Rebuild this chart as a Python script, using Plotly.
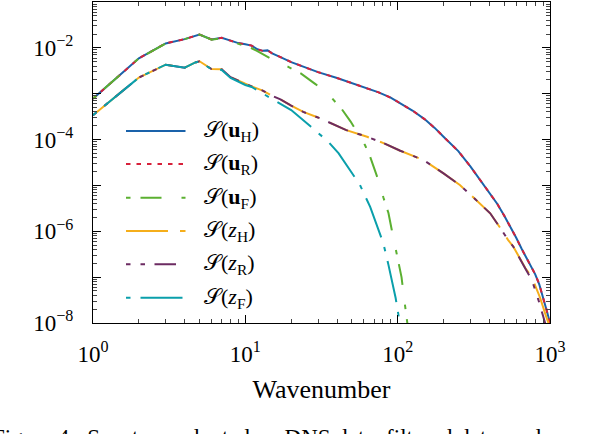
import plotly.graph_objects as go

# ---------------- data ----------------
k_u = [1, 2, 3, 4, 5, 6, 7, 8, 9, 10, 11, 12, 13, 14, 15, 17, 20, 25, 30, 40, 50,
       60, 75, 90, 105, 125, 150, 175, 200, 250, 300, 350, 400, 450, 500, 550, 600,
       650, 700, 750, 800, 850, 900, 950, 1000]
S_uH = [7.8e-4, 5.9e-3, 1.25e-2, 1.55e-2, 1.96e-2, 1.52e-2, 1.65e-2, 1.45e-2, 1.27e-2,
        1.2e-2, 1.12e-2, 9.3e-3, 8.6e-3, 8.8e-3, 7.6e-3, 6.3e-3, 4.9e-3, 3.7e-3, 2.95e-3,
        2.2e-3, 1.7e-3, 1.4e-3, 1.07e-3, 8.2e-4, 6.1e-4, 4.3e-4, 2.8e-4, 1.8e-4, 1.15e-4,
        5.6e-5, 2.6e-5, 1.25e-5, 7.0e-6, 4.0e-6, 2.2e-6, 1.25e-6, 7.2e-7, 4.2e-7, 2.6e-7,
        1.7e-7, 1.15e-7, 7.0e-8, 3.8e-8, 1.9e-8, 1.0e-8]
S_uR = [7.8e-4, 5.9e-3, 1.25e-2, 1.55e-2, 1.96e-2, 1.52e-2, 1.65e-2, 1.45e-2, 1.27e-2,
        1.2e-2, 1.12e-2, 9.3e-3, 8.6e-3, 8.8e-3, 7.6e-3, 6.3e-3, 4.9e-3, 3.7e-3, 2.95e-3,
        2.2e-3, 1.7e-3, 1.4e-3, 1.07e-3, 8.2e-4, 6.1e-4, 4.3e-4, 2.8e-4, 1.8e-4, 1.15e-4,
        5.6e-5, 2.6e-5, 1.25e-5, 7.0e-6, 4.0e-6, 2.2e-6, 1.25e-6, 7.2e-7, 4.2e-7, 2.6e-7,
        1.7e-7, 1.15e-7, 7.0e-8, 3.8e-8, 1.9e-8, 1.0e-8]

k_uF = [1, 2, 3, 4, 5, 6, 7, 8, 9, 10, 11, 12, 13, 14, 15, 17, 19, 23, 29, 37, 43, 49,
        55, 61, 66, 71, 76, 80.5, 87, 91.5, 98.5, 106, 112, 116, 120]
S_uF = [7.8e-4, 5.9e-3, 1.25e-2, 1.55e-2, 1.96e-2, 1.5e-2, 1.62e-2, 1.4e-2, 1.22e-2,
        1.1e-2, 9.8e-3, 8.5e-3, 7.3e-3, 6.2e-3, 5.6e-3, 4.6e-3, 3.9e-3, 2.8e-3, 1.6e-3,
        8.0e-4, 4.6e-4, 2.5e-4, 1.35e-4, 7.6e-5, 4.2e-5, 2.2e-5, 1.1e-5, 5.5e-6, 2.5e-6,
        1.07e-6, 3.3e-7, 1.0e-7, 2.3e-8, 1.0e-8, 4.0e-9]

k_z = [1, 2, 3, 4, 4.7, 5, 6, 7, 8, 9, 10, 11, 12, 13, 15, 17, 20, 24, 31, 46, 63, 80,
       104, 148, 200, 256, 300, 350, 405, 470, 530, 575, 605, 687, 760, 860, 930, 980, 1000]
S_zH = [3.4e-4, 2.25e-3, 4.3e-3, 3.7e-3, 4.8e-3, 5.1e-3, 3.44e-3, 3.4e-3, 2.3e-3, 1.9e-3,
        1.65e-3, 1.45e-3, 1.3e-3, 1.17e-3, 9.0e-4, 7.5e-4, 5.5e-4, 4.0e-4, 2.9e-4, 1.61e-4,
        1.15e-4, 8.5e-5, 5.7e-5, 3.57e-5, 1.83e-5, 1.02e-5, 6.3e-6, 3.9e-6, 2.47e-6, 1.2e-6,
        6.5e-7, 4.6e-7, 3.4e-7, 1.6e-7, 1.0e-7, 3.6e-8, 1.6e-8, 1.0e-8, 8.0e-9]

k_zR = [1, 2, 3, 4, 4.7, 5, 6, 7, 8, 9, 10, 11, 12, 13, 15, 17, 20, 24, 31, 46, 63, 80,
        104, 148, 200, 256, 300, 350, 405, 470, 530, 575, 605, 687, 760, 839, 929, 960]
S_zR = [3.4e-4, 2.25e-3, 4.3e-3, 3.7e-3, 4.8e-3, 5.1e-3, 3.44e-3, 3.4e-3, 2.3e-3, 1.9e-3,
        1.65e-3, 1.45e-3, 1.3e-3, 1.17e-3, 9.0e-4, 7.5e-4, 5.5e-4, 4.0e-4, 2.9e-4, 1.61e-4,
        1.15e-4, 8.5e-5, 5.7e-5, 3.57e-5, 1.83e-5, 1.02e-5, 6.3e-6, 3.9e-6, 2.47e-6, 1.2e-6,
        6.5e-7, 4.6e-7, 3.3e-7, 1.56e-7, 8.7e-8, 3.2e-8, 1.0e-8, 6.0e-9]

k_zF = [1, 2, 3, 4, 4.7, 5, 6, 7, 8, 9, 10, 11, 12.5, 14, 17, 20, 27, 35, 41, 48, 56.6,
        66, 80.5, 87, 92, 97, 102, 104]
S_zF = [3.4e-4, 2.25e-3, 4.3e-3, 3.7e-3, 4.8e-3, 5.1e-3, 3.4e-3, 3.3e-3, 2.2e-3, 1.8e-3,
        1.55e-3, 1.4e-3, 1.1e-3, 8.8e-4, 6.2e-4, 4.4e-4, 1.9e-4, 9.0e-5, 5.0e-5, 2.3e-5,
        1.02e-5, 3.4e-6, 5.5e-7, 1.85e-7, 8.5e-8, 3.5e-8, 1.27e-8, 8.0e-9]

names = ["𝒮(<b>u</b><sub>H</sub>)", "𝒮(<b>u</b><sub>R</sub>)", "𝒮(<b>u</b><sub>F</sub>)",
         "𝒮(<i>z</i><sub>H</sub>)", "𝒮(<i>z</i><sub>R</sub>)", "𝒮(<i>z</i><sub>F</sub>)"]

x_ticks = [1, 10, 100, 1000]
x_ticktext = ["10<sup>0</sup>", "10<sup>1</sup>", "10<sup>2</sup>", "10<sup>3</sup>"]
y_ticks = [1e-8, 1e-7, 1e-6, 1e-5, 1e-4, 1e-3, 1e-2, 1e-1]
y_ticktext = ["10<sup>−8</sup>", "", "10<sup>−6</sup>", "", "10<sup>−4</sup>", "",
              "10<sup>−2</sup>", ""]

# ---------------- styling ----------------
colors = ["#1a62aa", "#d7213b", "#5bb031", "#f5ae1b", "#6c2b62", "#0a9fab"]
dashes = ["solid", "4.5px,6px", "4.5px,10px,21px,20px", "42px,12px",
          "4.5px,10px,4.5px,9.5px,21.5px,10px", "4.5px,10px,42px,10px"]
xs = [k_u, k_u, k_uF, k_z, k_zR, k_zF]
ys = [S_uH, S_uR, S_uF, S_zH, S_zR, S_zF]

FONT = "Liberation Serif"
W, H = 594, 434
L, R, T, B = 93, 44, 2, 111
pw, ph = W - L - R, H - T - B

fig = go.Figure()
for name, x, y, c, d in zip(names, xs, ys, colors, dashes):
    fig.add_trace(go.Scatter(x=x, y=y, mode="lines", name=name, showlegend=False,
                             line=dict(color=c, width=2, dash=d)))

# manual legend (long sample lines as in the reference)
leg_y_px = [131, 164, 197.7, 231, 264.3, 297.7]
x0p, x1p, xtp = (126 - L) / pw, (185.5 - L) / pw, (202 - L) / pw
for name, c, d, py in zip(names, colors, dashes, leg_y_px):
    yp = (T + ph - py) / ph
    fig.add_shape(type="line", xref="paper", yref="paper", x0=x0p, x1=x1p, y0=yp, y1=yp,
                  line=dict(color=c, width=2, dash=d))
    fig.add_annotation(xref="paper", yref="paper", x=xtp, y=yp, text=name, showarrow=False,
                       xanchor="left", yanchor="middle", font=dict(family=FONT, size=22, color="black"))

# caption (cut off at the bottom, as in the reference)
fig.add_annotation(xref="paper", yref="paper", x=(-10 - L) / pw, y=(T + ph - 423) / ph,
                   text="Figure 4:  Spectra evaluated on DNS data, filtered data, and reconstructed data.",
                   showarrow=False, xanchor="left", yanchor="top",
                   font=dict(family=FONT, size=23, color="black"))

minor_x = [m * 10 ** e for e in range(0, 3) for m in range(2, 10)]
minor_y = [m * 10.0 ** e for e in range(-8, -1) for m in range(2, 10)]

axis_common = dict(type="log", showgrid=False, zeroline=False, showline=True,
                   linecolor="black", linewidth=1.3, mirror="allticks",
                   ticks="inside", ticklen=8, tickwidth=1, tickcolor="black",
                   tickfont=dict(family=FONT, size=23, color="black"),
                   tickmode="array")

fig.update_xaxes(**axis_common, range=[0, 3], tickvals=x_ticks, ticktext=x_ticktext,
                 ticklabelstandoff=10,
                 minor=dict(tickmode="array", tickvals=minor_x, ticks="inside", ticklen=4,
                            tickwidth=1, tickcolor="#444", showgrid=False),
                 title=dict(text="Wavenumber", font=dict(family=FONT, size=26, color="black"),
                            standoff=14))
fig.update_yaxes(**axis_common, range=[-8, -1], tickvals=y_ticks, ticktext=y_ticktext,
                 ticklabelstandoff=14,
                 minor=dict(tickmode="array", tickvals=minor_y, ticks="inside", ticklen=4,
                            tickwidth=1, tickcolor="#444", showgrid=False))

fig.update_layout(width=W, height=H, margin=dict(l=L, r=R, t=T, b=B, autoexpand=False),
                  paper_bgcolor="white", plot_bgcolor="white", showlegend=False,
                  font=dict(family=FONT, color="black"))

fig.write_html("out.html", config={"displayModeBar": False},
               post_script="document.body.style.margin='0';document.body.style.overflow='hidden';")
